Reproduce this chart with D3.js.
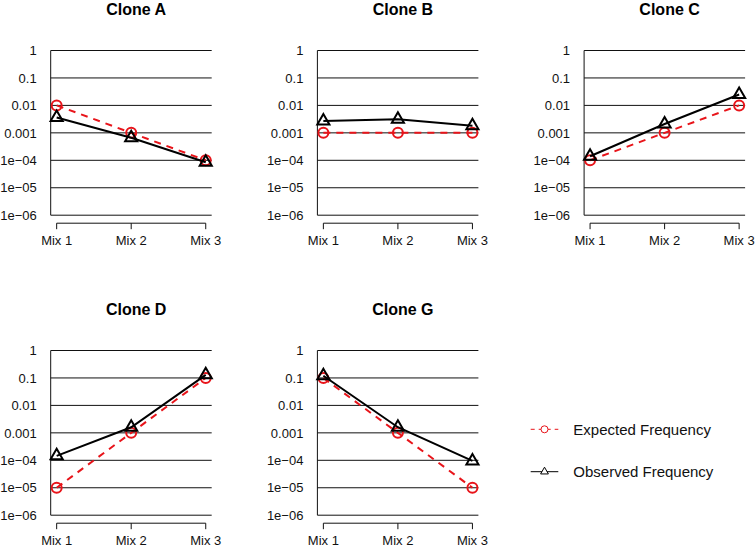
<html>
<head>
<script src="https://cdn.jsdelivr.net/npm/d3@7"></script>
<style>
  body { margin: 0; background: #fff; }
  text { font-family: "Liberation Sans", Arial, Helvetica, sans-serif; }
</style>
</head>
<body>
<svg id="chart" width="755" height="547"></svg>
<script>
// categories
const mixes = ["Mix 1", "Mix 2", "Mix 3"];
const clones = ["Clone A", "Clone B", "Clone C", "Clone D", "Clone G"];

// expected frequencies per clone
const expectedA = [0.01, 0.001, 1e-4];
const expectedB = [0.001, 0.001, 0.001];
const expectedC = [1e-4, 0.001, 0.01];
const expectedD = [1e-5, 0.001, 0.1];
const expectedG = [0.1, 0.001, 1e-5];

// observed frequencies per clone
const observedA = [0.0036, 0.00066, 8.5e-5];
const observedB = [0.0027, 0.0031, 0.0018];
const observedC = [1.4e-4, 0.0021, 0.025];
const observedD = [1.45e-4, 0.0016, 0.13];
const observedG = [0.12, 0.0016, 9.5e-5];

// y tick values and labels
const yTicks = [1, 0.1, 0.01, 0.001, 1e-4, 1e-5, 1e-6];
const yTickLabels = ["1", "0.1", "0.01", "0.001", "1e\u221204", "1e\u221205", "1e\u221206"];

const legendLabels = ["Expected Frequency", "Observed Frequency"];

const expectedAll = [expectedA, expectedB, expectedC, expectedD, expectedG];
const observedAll = [observedA, observedB, observedC, observedD, observedG];

const panels = clones.map((name, i) => ({
  name: name,
  expected: expectedAll[i],
  observed: observedAll[i],
  col: i % 3,
  row: Math.floor(i / 3)
}));

const svg = d3.select("#chart");
const pw = 161, ph = 164.7;
const red = "#e8141a";

const x = d3.scalePoint().domain(mixes).range([0, pw]).padding(0.08);
const y = d3.scaleLog().domain([1e-6, 1]).range([ph, 0]);

const triR = 7;
function triPath(r) {
  const h = r * Math.sqrt(3) / 2;
  return "M0," + (-r) + "L" + h + "," + (r / 2) + "L" + (-h) + "," + (r / 2) + "Z";
}

const line = d3.line()
  .x((d, i) => x(mixes[i]))
  .y(d => y(d));

panels.forEach(p => {
  const g = svg.append("g")
    .attr("transform", "translate(" + (50.7 + p.col * 266.7) + "," + (50.5 + p.row * 300) + ")");

  // horizontal grid lines
  g.selectAll("line.grid")
    .data(yTicks)
    .enter().append("line")
    .attr("class", "grid")
    .attr("x1", 0).attr("x2", pw)
    .attr("y1", d => y(d)).attr("y2", d => y(d))
    .attr("stroke", "#111").attr("stroke-width", 1);

  // left axis line
  g.append("line")
    .attr("x1", 0).attr("x2", 0)
    .attr("y1", y(1)).attr("y2", y(1e-6))
    .attr("stroke", "#111").attr("stroke-width", 1);

  // y labels
  g.selectAll("text.ylab")
    .data(yTicks)
    .enter().append("text")
    .attr("class", "ylab")
    .attr("x", -14)
    .attr("y", d => y(d))
    .attr("dy", "0.36em")
    .attr("text-anchor", "end")
    .attr("font-size", 13)
    .attr("fill", "#111")
    .text((d, i) => yTickLabels[i]);

  // x axis
  const xa = g.append("g").attr("transform", "translate(0," + (ph + 8) + ")");
  xa.append("line")
    .attr("x1", x(mixes[0])).attr("x2", x(mixes[2]))
    .attr("stroke", "#111");
  xa.selectAll("line.tick")
    .data(mixes)
    .enter().append("line")
    .attr("class", "tick")
    .attr("x1", d => x(d)).attr("x2", d => x(d))
    .attr("y1", 0).attr("y2", 6)
    .attr("stroke", "#111");
  xa.selectAll("text")
    .data(mixes)
    .enter().append("text")
    .attr("x", d => x(d))
    .attr("y", 21.5)
    .attr("text-anchor", "middle")
    .attr("font-size", 13)
    .attr("fill", "#111")
    .text(d => d);

  // title
  g.append("text")
    .attr("x", pw / 2 + 5)
    .attr("y", -35.5)
    .attr("text-anchor", "middle")
    .attr("font-size", 16)
    .attr("font-weight", "bold")
    .text(p.name);

  // expected series
  g.append("path")
    .attr("d", line(p.expected))
    .attr("fill", "none")
    .attr("stroke", red)
    .attr("stroke-width", 2)
    .attr("stroke-dasharray", "7,6");
  g.selectAll("circle.exp")
    .data(p.expected)
    .enter().append("circle")
    .attr("class", "exp")
    .attr("cx", (d, i) => x(mixes[i]))
    .attr("cy", d => y(d))
    .attr("r", 5)
    .attr("fill", "none")
    .attr("stroke", red)
    .attr("stroke-width", 2);

  // observed series
  g.append("path")
    .attr("d", line(p.observed))
    .attr("fill", "none")
    .attr("stroke", "#000")
    .attr("stroke-width", 2);
  g.selectAll("path.obs")
    .data(p.observed)
    .enter().append("path")
    .attr("class", "obs")
    .attr("d", triPath(triR))
    .attr("transform", (d, i) => "translate(" + x(mixes[i]) + "," + y(d) + ")")
    .attr("fill", "none")
    .attr("stroke", "#000")
    .attr("stroke-width", 2);
});

// legend
const leg = svg.append("g");
const legY = [429.3, 471.7];
leg.append("line")
  .attr("x1", 530.7).attr("x2", 558.3)
  .attr("y1", legY[0]).attr("y2", legY[0])
  .attr("stroke", red).attr("stroke-width", 1)
  .attr("stroke-dasharray", "4,4");
leg.append("circle")
  .attr("cx", 544.5).attr("cy", legY[0]).attr("r", 3.5)
  .attr("fill", "#fff").attr("stroke", red).attr("stroke-width", 1);
leg.append("line")
  .attr("x1", 530.7).attr("x2", 558.3)
  .attr("y1", legY[1]).attr("y2", legY[1])
  .attr("stroke", "#000").attr("stroke-width", 1);
leg.append("path")
  .attr("d", triPath(4.5))
  .attr("transform", "translate(544.5," + legY[1] + ")")
  .attr("fill", "#fff").attr("stroke", "#000").attr("stroke-width", 1);
leg.selectAll("text")
  .data(legendLabels)
  .enter().append("text")
  .attr("x", 573.3)
  .attr("y", (d, i) => legY[i])
  .attr("dy", "0.36em")
  .attr("font-size", 15)
  .attr("fill", "#111")
  .text(d => d);
</script>
</body>
</html>
